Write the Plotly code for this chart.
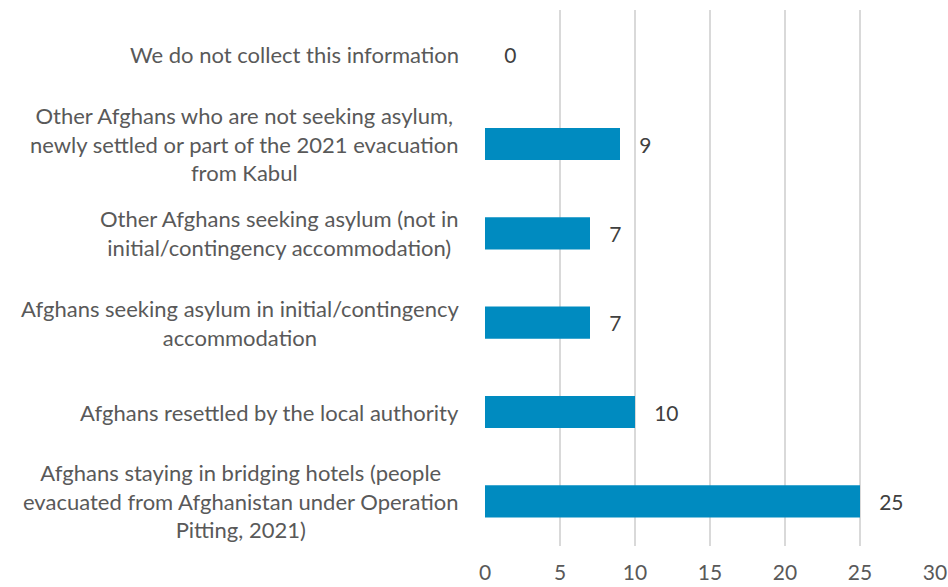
import plotly.graph_objects as go

categories = [
    "Afghans staying in bridging hotels (people<br>evacuated from Afghanistan under Operation<br>Pitting, 2021)",
    "Afghans resettled by the local authority",
    "Afghans seeking asylum in initial/contingency<br>accommodation",
    "Other Afghans seeking asylum (not in<br>initial/contingency accommodation)",
    "Other Afghans who are not seeking asylum,<br>newly settled or part of the 2021 evacuation<br>from Kabul",
    "We do not collect this information",
]
values = [25, 10, 7, 7, 9, 0]
x_ticks = [0, 5, 10, 15, 20, 25, 30]

FONT = "Lato"
TXT = "#595959"

fig = go.Figure(go.Bar(
    y=list(range(len(categories))),
    x=values,
    orientation="h",
    width=0.36,
    marker=dict(color="#008BC0", line=dict(width=0)),
    text=["   " + str(v) for v in values],
    textposition="outside",
    cliponaxis=False,
    textfont=dict(family=FONT, size=21, color="#404040"),
))

for i, c in enumerate(categories):
    fig.add_annotation(
        x=0, xref="paper", y=i, yref="y",
        text=c, showarrow=False, xanchor="right", align="center",
        xshift=-24, font=dict(family=FONT, size=22, color=TXT),
    )

fig.update_layout(
    width=948, height=587,
    margin=dict(l=485, r=13, t=10, b=41, autoexpand=False),
    paper_bgcolor="white", plot_bgcolor="white",
    showlegend=False,
    xaxis=dict(range=[0, 30], tickvals=x_ticks, ticktext=[str(t) for t in x_ticks],
               showgrid=True, gridcolor="#d9d9d9", gridwidth=2,
               zeroline=False, showline=False, automargin=False,
               ticklabelstandoff=12,
               tickfont=dict(family=FONT, size=21, color=TXT), ticks="", ticklen=0),
    yaxis=dict(range=[-0.5, 5.5], showticklabels=False, showgrid=False,
               zeroline=False, showline=False, automargin=False),
)

fig.write_html(
    "out.html",
    config={"displayModeBar": False},
    post_script="document.body.style.margin='0';document.body.style.overflow='hidden';",
)
